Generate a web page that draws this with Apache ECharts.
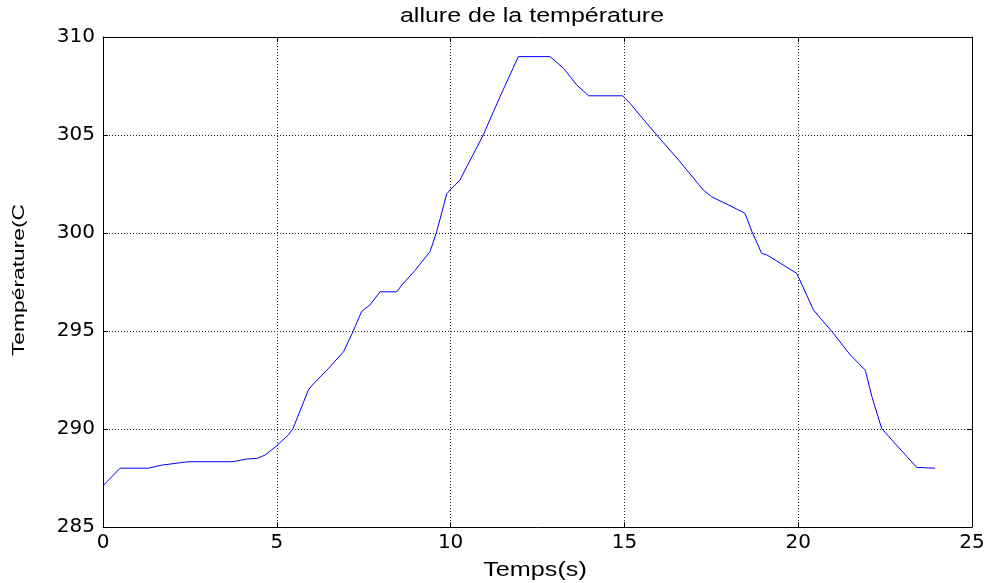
<!DOCTYPE html>
<html>
<head>
<meta charset="utf-8">
<script src="https://cdn.jsdelivr.net/npm/echarts@6/dist/echarts.min.js"></script>
<style>html,body{margin:0;padding:0;background:#fff}#c{width:988px;height:583px}</style>
</head>
<body>
<div id="c"></div>
<script>
const titleText = 'allure de la température';
const xName = 'Temps(s)';
const yName = 'Température(C';
const xTicks = [0, 5, 10, 15, 20, 25];
const yTicks = [285, 290, 295, 300, 305, 310];
const timeS = [0, 0.49, 1.3, 1.7, 2.45, 3.74, 4.13, 4.44, 4.66, 4.95, 5.33, 5.46, 5.91, 6.05, 6.44, 6.92, 7.2, 7.44, 7.68, 7.97, 8.45, 8.6, 8.98, 9.41, 9.6, 9.89, 9.99, 10.27, 10.47, 10.94, 11.42, 11.95, 12.86, 13.25, 13.63, 13.97, 14.95, 15.17, 15.45, 15.93, 16.56, 17.27, 17.51, 18.38, 18.47, 18.67, 18.95, 19.1, 19.96, 20.44, 20.97, 21.5, 21.93, 22.12, 22.4, 22.74, 23.13, 23.41, 23.94];
const tempC = [287.1, 288.0, 288.0, 288.16, 288.33, 288.33, 288.47, 288.5, 288.67, 289.07, 289.69, 290.0, 292.0, 292.3, 293.0, 293.94, 295.0, 296.0, 296.33, 297.0, 297.0, 297.35, 298.1, 299.05, 300.07, 302.0, 302.2, 302.7, 303.4, 305.0, 306.95, 309.0, 309.0, 308.4, 307.55, 307.0, 307.0, 306.6, 306.0, 305.0, 303.72, 302.19, 301.85, 301.09, 301.0, 300.07, 298.96, 298.88, 297.94, 296.07, 294.97, 293.78, 293.0, 291.65, 290.03, 289.35, 288.59, 288.04, 288.0];

const data = timeS.map((t, i) => [t, tempC[i]]);
const font = 'Arial, "Liberation Sans", Helvetica, sans-serif';
const tickFont = '"DejaVu Sans", Arial, sans-serif';
const chart = echarts.init(document.getElementById('c'), null, {renderer: 'canvas'});
const split = {show: true, lineStyle: {color: '#222', type: [1, 2], width: 1}};
const frameAxis = {
  axisLine: {show: true, onZero: false, lineStyle: {color: '#000', width: 1}},
  axisTick: {show: true, inside: true, length: 5, lineStyle: {color: '#000'}}
};
chart.setOption({
  animation: false,
  backgroundColor: '#fff',
  grid: {left: 103, right: 16, top: 37, bottom: 56, show: false},
  graphic: [
    {type: 'text', x: 532, y: 16, scaleX: 1.22, silent: true,
      style: {text: titleText, fontFamily: font, fontSize: 20.5, fill: '#000', align: 'center', verticalAlign: 'middle'}},
    {type: 'text', x: 535, y: 570, scaleX: 1.2, silent: true,
      style: {text: xName, fontFamily: font, fontSize: 21, fill: '#000', align: 'center', verticalAlign: 'middle'}},
    {type: 'text', x: 19, y: 280, rotation: Math.PI / 2, scaleX: 1.32, silent: true,
      style: {text: yName, fontFamily: font, fontSize: 17.3, fill: '#000', align: 'center', verticalAlign: 'middle'}}
  ],
  xAxis: [Object.assign({
    type: 'value', min: xTicks[0], max: xTicks[xTicks.length - 1], interval: xTicks[1] - xTicks[0], position: 'bottom',
    axisLabel: {fontFamily: tickFont, fontSize: 20, color: '#000', margin: 6},
    splitLine: split
  }, frameAxis), Object.assign({
    type: 'value', min: xTicks[0], max: xTicks[xTicks.length - 1], interval: xTicks[1] - xTicks[0], position: 'top',
    axisLabel: {show: false}, splitLine: {show: false}
  }, frameAxis)],
  yAxis: [Object.assign({
    type: 'value', min: yTicks[0], max: yTicks[yTicks.length - 1], interval: yTicks[1] - yTicks[0], position: 'left',
    axisLabel: {fontFamily: tickFont, fontSize: 20, color: '#000', margin: 8},
    splitLine: split
  }, frameAxis), Object.assign({
    type: 'value', min: yTicks[0], max: yTicks[yTicks.length - 1], interval: yTicks[1] - yTicks[0], position: 'right',
    axisLabel: {show: false}, splitLine: {show: false}
  }, frameAxis)],
  series: [{
    type: 'line', data: data, xAxisIndex: 0, yAxisIndex: 0,
    showSymbol: false, smooth: false,
    lineStyle: {color: '#0000ff', width: 1}
  }]
});
</script>
</body>
</html>
